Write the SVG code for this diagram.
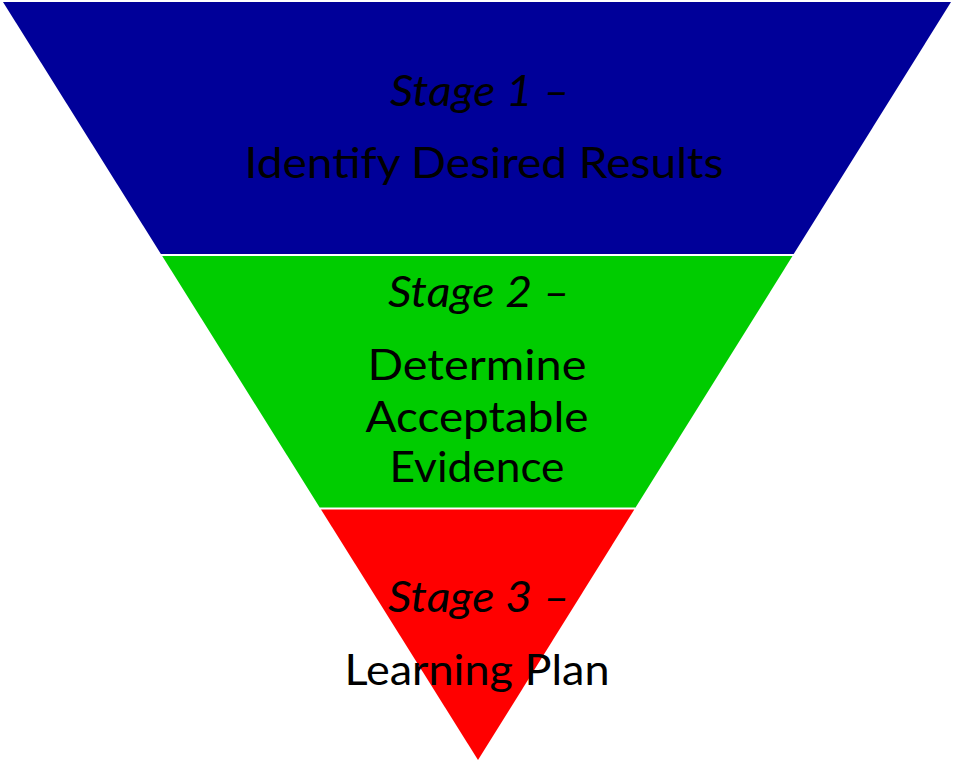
<svg xmlns="http://www.w3.org/2000/svg" width="955" height="764" viewBox="0 0 955 764">
<style>
.t{font-family:"Gill Sans","Lato","Liberation Sans",sans-serif;font-size:43px;fill:#000;text-anchor:middle}
.i{font-style:italic}
</style>
<rect width="955" height="764" fill="#fff"/>
<g id="stage1">
<polygon points="3,2 951,2 793.7,254 160.9,254" fill="#000099"/>
<text class="t i" x="480" y="106" textLength="180" lengthAdjust="spacingAndGlyphs">Stage 1 –</text>
<text class="t" x="484" y="178" textLength="479" lengthAdjust="spacingAndGlyphs">Identify Desired Results</text>
</g>
<g id="stage2">
<polygon points="162.2,256 792.5,256 635.6,507.5 319.7,507.5" fill="#00CC00"/>
<text class="t i" x="479" y="307" textLength="182" lengthAdjust="spacingAndGlyphs">Stage 2 –</text>
<text class="t" x="477" y="380" textLength="219" lengthAdjust="spacingAndGlyphs">Determine</text>
<text class="t" x="477" y="432" textLength="223" lengthAdjust="spacingAndGlyphs">Acceptable</text>
<text class="t" x="477" y="482" textLength="175" lengthAdjust="spacingAndGlyphs">Evidence</text>
</g>
<g id="stage3">
<polygon points="321,509.5 634.3,509.5 478,760" fill="#FF0000"/>
<text class="t i" x="479" y="612" textLength="182" lengthAdjust="spacingAndGlyphs">Stage 3 –</text>
<text class="t" x="477" y="685" textLength="265" lengthAdjust="spacingAndGlyphs">Learning Plan</text>
</g>
<g id="connectors"/>
</svg>
